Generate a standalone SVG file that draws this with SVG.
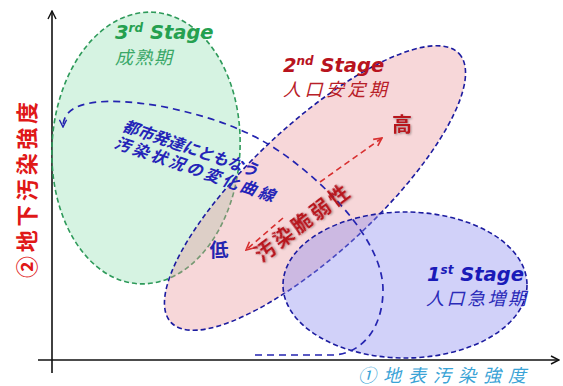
<svg xmlns="http://www.w3.org/2000/svg" width="563" height="386" viewBox="0 0 563 386">
<defs>
<style>
.axis{stroke:#111;stroke-width:1.6;fill:none}
.eg{fill:rgb(120,215,160);fill-opacity:0.3;stroke:#2e9a5a;stroke-width:1.6;stroke-dasharray:5 3}
.ep{fill:rgb(235,150,155);fill-opacity:0.38;stroke:#1c1ca0;stroke-width:1.6;stroke-dasharray:5 3}
.eb{fill:rgb(140,140,240);fill-opacity:0.4;stroke:#1c1ca0;stroke-width:1.6;stroke-dasharray:5 3}
.curve{fill:none;stroke:#2424b0;stroke-width:1.7;stroke-dasharray:7 5}
.red{fill:none;stroke:#d83030;stroke-width:1.6;stroke-dasharray:6 4}
.stage{font-family:"DejaVu Sans","Liberation Sans",sans-serif;font-weight:bold;font-style:italic;font-size:19.5px}
.jp{font-family:"Noto Sans CJK JP","Noto Sans",sans-serif;font-style:italic;font-size:18px}
.jpb{font-family:"Noto Sans CJK JP","Noto Sans",sans-serif;font-weight:bold;dominant-baseline:central;text-anchor:middle}
</style>
<marker id="ah" viewBox="0 0 10 10" refX="9" refY="5" markerWidth="10" markerHeight="10" markerUnits="userSpaceOnUse" orient="auto">
<path d="M1,1 L9,5 L1,9" fill="none" stroke="#111" stroke-width="1.4"/>
</marker>
<marker id="ahb" viewBox="0 0 10 10" refX="9" refY="5" markerWidth="9" markerHeight="9" markerUnits="userSpaceOnUse" orient="auto">
<path d="M1,1 L9,5 L1,9" fill="none" stroke="#2424b0" stroke-width="1.6"/>
</marker>
<marker id="ahr" viewBox="0 0 10 10" refX="9" refY="5" markerWidth="10" markerHeight="10" markerUnits="userSpaceOnUse" orient="auto">
<path d="M1,1 L9,5 L1,9" fill="none" stroke="#d83030" stroke-width="1.6"/>
</marker>
<filter id="sh" x="-20%" y="-20%" width="140%" height="140%">
<feDropShadow dx="1" dy="1" stdDeviation="0.8" flood-color="#000" flood-opacity="0.35"/>
</filter>
</defs>
<rect width="563" height="386" fill="#fff"/>

<g id="axes">
<line class="axis" x1="52" y1="373" x2="52" y2="11" marker-end="url(#ah)"/>
<line class="axis" x1="38" y1="360" x2="559" y2="360" marker-end="url(#ah)"/>
</g>

<g id="stage3">
<ellipse class="eg" cx="146" cy="148" rx="94" ry="136" transform="rotate(3 146 148)"/>
<text class="stage" x="115" y="39" fill="#25a050">3<tspan font-size="12" dy="-7">rd</tspan><tspan dy="7"> Stage</tspan></text>
<text class="jp" x="115" y="64" fill="#3aa868" textLength="57" lengthAdjust="spacing">成熟期</text>
</g>

<g id="stage2">
<ellipse class="ep" cx="315" cy="188" rx="197" ry="64" transform="rotate(-43 315 188)"/>
<text class="stage" x="283" y="72" fill="#b8141e">2<tspan font-size="12" dy="-7">nd</tspan><tspan dy="7"> Stage</tspan></text>
<text class="jp" x="283" y="96" fill="#b82028" textLength="104" lengthAdjust="spacing">人口安定期</text>
</g>

<g id="stage1">
<ellipse class="eb" cx="405" cy="285" rx="122" ry="73"/>
<text class="stage" x="427" y="281" fill="#1a1ab8">1<tspan font-size="12" dy="-7">st</tspan><tspan dy="7"> Stage</tspan></text>
<text class="jp" x="426" y="305" fill="#2a2ab8" textLength="100" lengthAdjust="spacing">人口急増期</text>
</g>

<g id="connectors">
<path class="curve" d="M255,355 L335,355 C365,352 383,325 383,290 C383,250 345,205 310,175 C275,145 240,122 160,106 C110,98 63,98 63,127" marker-end="url(#ahb)"/>
<line class="red" x1="320" y1="182" x2="382" y2="138" marker-end="url(#ahr)"/>
<line class="red" x1="283" y1="218" x2="246" y2="250" marker-end="url(#ahr)"/>
</g>

<g id="labels">
<text class="jpb" x="191" y="147" font-size="16" fill="#2424b8" font-style="italic" textLength="142" lengthAdjust="spacing" transform="rotate(19 191 147)">都市発達にともなう</text>
<text class="jpb" x="195" y="168" font-size="16" fill="#2424b8" font-style="italic" textLength="168" lengthAdjust="spacing" transform="rotate(19 195 168)">汚染状況の変化曲線</text>
<text class="jpb" x="301" y="222" font-size="20" fill="#b8141e" filter="url(#sh)" textLength="112" lengthAdjust="spacing" transform="rotate(-37 301 222)">汚染脆弱性</text>
<text class="jpb" x="402" y="123" font-size="20" fill="#b8141e" filter="url(#sh)">高</text>
<text class="jpb" x="219" y="248" font-size="19" fill="#2424b0">低</text>
<text class="jp" x="358" y="382" font-size="20" fill="#3aa3d6" textLength="168" lengthAdjust="spacing">①地表汚染強度</text>
<text class="jpb" x="25" y="190" font-size="22" fill="#e01818" font-weight="normal" textLength="176" lengthAdjust="spacing" transform="rotate(-90 25 190)">②地下汚染強度</text>
</g>
</svg>
